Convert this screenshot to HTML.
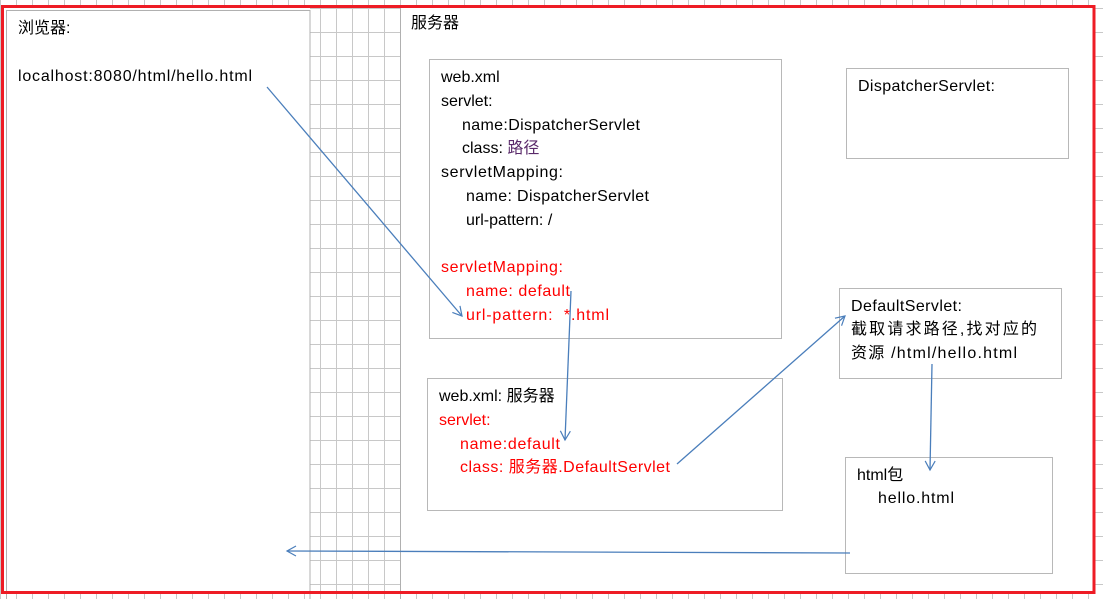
<!DOCTYPE html>
<html><head><meta charset="utf-8"><style>
html,body{margin:0;padding:0;background:#fff;}
svg{display:block;}
text{font-family:"Liberation Sans","Noto Sans CJK SC",sans-serif;font-size:16px;fill:#000;}
.r{fill:#ff0000;}
</style></head><body>
<svg width="1103" height="599" viewBox="0 0 1103 599" xmlns="http://www.w3.org/2000/svg">
<defs>
<pattern id="g" x="0" y="8" width="16" height="24" patternUnits="userSpaceOnUse">
<path d="M0 0.5H16M0.5 0V24" stroke="#c8c8c8" stroke-width="1" fill="none"/>
</pattern>
<marker id="a" markerWidth="12" markerHeight="12" refX="10" refY="6" orient="auto" markerUnits="userSpaceOnUse">
<path d="M1 1L10 6L1 11" fill="none" stroke="#4a7ebb" stroke-width="1.2"/>
</marker>
</defs>
<rect x="0" y="0" width="1103" height="599" fill="url(#g)"/>
<rect x="4" y="7" width="306" height="585" fill="#fff"/>
<rect x="400" y="7" width="694" height="585" fill="#fff"/>
<rect x="6.5" y="10.5" width="303.5" height="590" fill="none" stroke="#b0b0b0"/>
<line x1="400.5" y1="7" x2="400.5" y2="599" stroke="#b0b0b0"/>
<rect x="2.5" y="6.5" width="1091.5" height="586" fill="none" stroke="#ee1c25" stroke-width="3"/>

<text x="18" y="33">浏览器:</text>
<text x="18" y="81" textLength="234">localhost:8080/html/hello.html</text>
<text x="411" y="28">服务器</text>

<rect x="429.5" y="59.5" width="352" height="279" fill="#fff" stroke="#b8b8b8"/>
<text x="441" y="82">web.xml</text>
<text x="441" y="106">servlet:</text>
<text x="462" y="130" textLength="178">name:DispatcherServlet</text>
<text x="462" y="153">class: <tspan fill="#5a2a6a">路径</tspan></text>
<text x="441" y="177" textLength="122">servletMapping:</text>
<text x="466" y="201" textLength="183">name: DispatcherServlet</text>
<text x="466" y="225">url-pattern: /</text>
<text class="r" x="441" y="272" textLength="122">servletMapping:</text>
<text class="r" x="466" y="296" textLength="104">name: default</text>
<text class="r" x="466" y="320" xml:space="preserve" textLength="143">url-pattern:  *.html</text>

<rect x="427.5" y="378.5" width="355" height="132" fill="#fff" stroke="#b8b8b8"/>
<text x="439" y="401">web.xml: 服务器</text>
<text class="r" x="439" y="425">servlet:</text>
<text class="r" x="460" y="449" textLength="100">name:default</text>
<text class="r" x="460" y="472" textLength="210">class: 服务器.DefaultServlet</text>

<rect x="846.5" y="68.5" width="222" height="90" fill="#fff" stroke="#b8b8b8"/>
<text x="858" y="91" textLength="137">DispatcherServlet:</text>

<rect x="839.5" y="288.5" width="222" height="90" fill="#fff" stroke="#b8b8b8"/>
<text x="851" y="311" textLength="111">DefaultServlet:</text>
<text x="851" y="334" textLength="186">截取请求路径,找对应的</text>
<text x="851" y="358" textLength="166">资源 /html/hello.html</text>

<rect x="845.5" y="457.5" width="207" height="116" fill="#fff" stroke="#b8b8b8"/>
<text x="857" y="480">html包</text>
<text x="878" y="503" textLength="76">hello.html</text>

<g stroke="#4a7ebb" stroke-width="1.3" fill="none" marker-end="url(#a)">
<line x1="267" y1="87" x2="462" y2="316"/>
<line x1="571" y1="291" x2="565" y2="440"/>
<line x1="677" y1="464" x2="845" y2="316"/>
<line x1="932" y1="364" x2="930" y2="470"/>
<line x1="850" y1="553" x2="287" y2="551"/>
</g>
</svg>
</body></html>
